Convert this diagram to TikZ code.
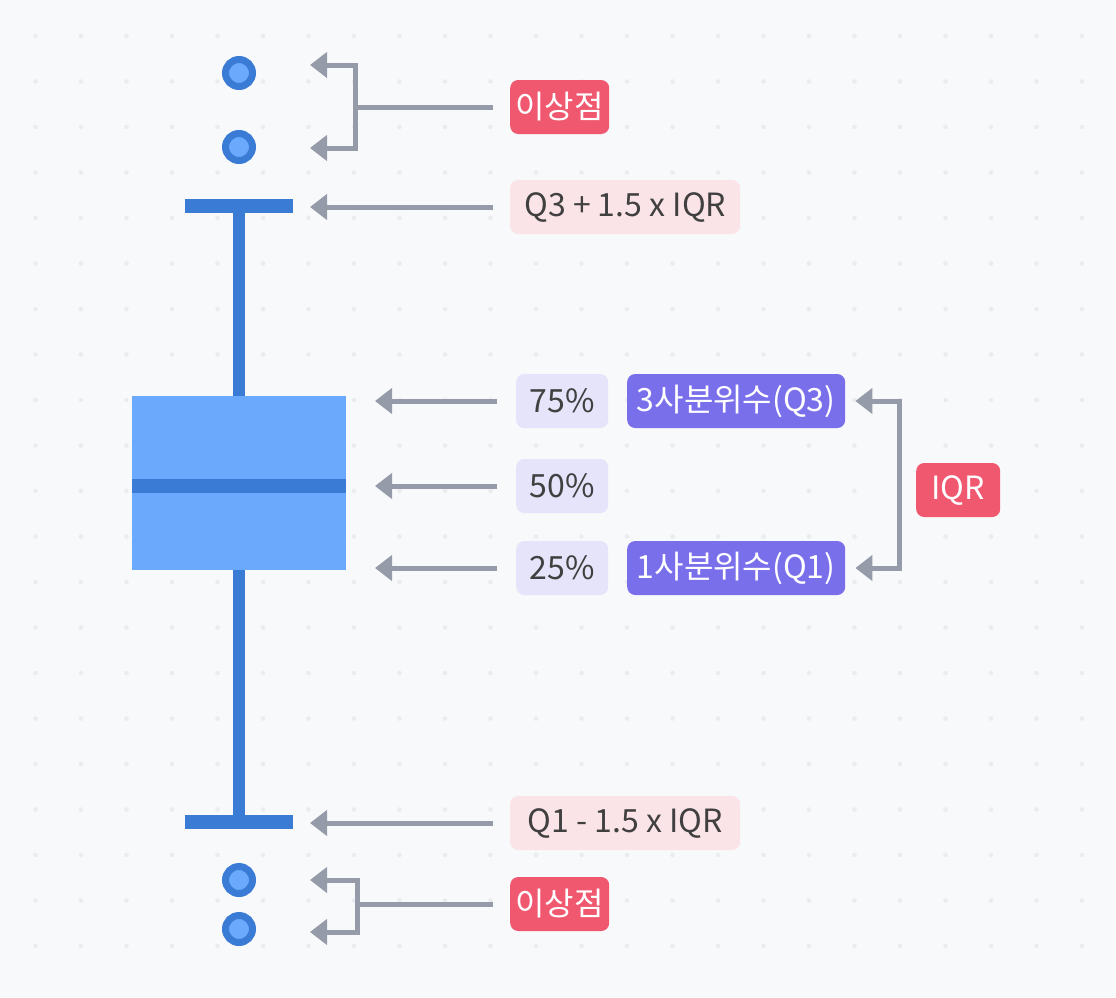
\documentclass[tikz,border=0pt]{standalone}
\usepackage{fontspec}
\setmainfont{Noto Sans CJK KR}
\usepackage{tikz}
\usetikzlibrary{arrows.meta,positioning,calc}

\definecolor{bgcol}{HTML}{F8F9FB}
\definecolor{dotcol}{HTML}{EBECEF}
\definecolor{boxdark}{HTML}{3A7BD5}
\definecolor{boxlight}{HTML}{6AA9FB}
\definecolor{arrowgray}{HTML}{959BA8}
\definecolor{alertred}{HTML}{F0586F}
\definecolor{fencepink}{HTML}{FBE4E8}
\definecolor{pctlav}{HTML}{E6E4FA}
\definecolor{quartpurple}{HTML}{7A6FEB}
\definecolor{txtgray}{HTML}{404040}

\begin{document}
\begin{tikzpicture}[x=1pt, y=-1pt,
  tag/.style={rounded corners=8pt, minimum height=54pt, inner sep=0pt,
    font=\fontsize{32pt}{36pt}\selectfont, anchor=west},
  alert/.style={tag, fill=alertred, text=white, minimum width=99pt},
  fence/.style={tag, fill=fencepink, text=txtgray, minimum width=230pt},
  pct/.style={tag, fill=pctlav, text=txtgray, minimum width=92pt},
  quart/.style={tag, fill=quartpurple, text=white, minimum width=218pt},
  capbar/.style={fill=boxdark, minimum width=108pt, minimum height=14pt, inner sep=0pt},
  outlier/.style={circle, draw=boxdark, fill=boxlight, line width=7pt,
    minimum size=27pt, inner sep=0pt},
  whisker/.style={draw=boxdark, line width=12pt},
  pointer/.style={-{Triangle[length=17pt,width=25pt]}, line width=5pt, draw=arrowgray},
  plain/.style={line width=5pt, draw=arrowgray},
]
  % background with dot grid
  \fill[bgcol] (0,0) rectangle (1116,997);
  \useasboundingbox (0,0) rectangle (1116,997);
  \foreach \i in {0,...,23}
    \foreach \j in {0,...,20}
      \fill[dotcol] (35.5+45.5*\i, 36+45.5*\j) circle (2.3pt);

  % box plot
  \node[capbar] (capT) at (239,206) {};
  \node[capbar] (capB) at (239,822) {};
  \node[minimum width=214pt, minimum height=174pt, inner sep=0pt] (box) at (239,483) {};
  \draw[whisker] (capT.center) -- (box.north);
  \draw[whisker] (box.south) -- (capB.center);
  \node[capbar] at (capT) {};
  \node[capbar] at (capB) {};
  \node[fill=boxlight, minimum width=214pt, minimum height=174pt, inner sep=0pt] at (box) {};
  \node[fill=boxdark, minimum width=214pt, minimum height=14pt, inner sep=0pt] (med) at (239,486) {};

  \node[outlier] (o1) at (239,73) {};
  \node[outlier] (o2) at (239,147) {};
  \node[outlier] (o3) at (239,880) {};
  \node[outlier] (o4) at (239,929) {};

  % labels
  \node[alert] (outT) at (510,107) {이상점};
  \node[fence] (upper) at (510,207) {Q3 + 1.5 x IQR};
  \node[pct] (p75) at (516,401) {75\%};
  \node[pct] (p50) at (516,486) {50\%};
  \node[pct] (p25) at (516,568) {25\%};
  \node[quart] (q3) at (627,401) {3사분위수(Q3)};
  \node[quart] (q1) at (627,568) {1사분위수(Q1)};
  \node[alert, minimum width=84pt] (iqr) at (916,490) {IQR};
  \node[fence] (lower) at (510,823) {Q1 - 1.5 x IQR};
  \node[alert] (outB) at (510,904) {이상점};

  \coordinate (jT) at (355,107);
  \coordinate (jB) at (357,904);
  \coordinate (tipO1) at (310,65);
  \coordinate (tipO2) at (310,148);
  \coordinate (tipO3) at (310,880);
  \coordinate (tipO4) at (310,932);

  % connectors
  \draw[plain] ([xshift=-17pt]outT.west) -- (jT);
  \draw[pointer] (jT) |- (tipO1);
  \draw[pointer] (jT) |- (tipO2);
  \draw[pointer] ([xshift=-17pt]upper.west) -- (upper.west -| tipO1);
  \draw[pointer] ([xshift=-19pt]p75.west) -- ++(-122,0);
  \draw[pointer] ([xshift=-19pt]p50.west) -- ++(-122,0);
  \draw[pointer] ([xshift=-19pt]p25.west) -- ++(-122,0);
  \draw[pointer] ([xshift=-17pt]iqr.west) |- ([xshift=10pt]q3.east);
  \draw[pointer] ([xshift=-17pt]iqr.west) |- ([xshift=10pt]q1.east);
  \draw[pointer] ([xshift=-17pt]lower.west) -- (lower.west -| tipO3);
  \draw[plain] ([xshift=-17pt]outB.west) -- (jB);
  \draw[pointer] (jB) |- (tipO3);
  \draw[pointer] (jB) |- (tipO4);
\end{tikzpicture}
\end{document}
